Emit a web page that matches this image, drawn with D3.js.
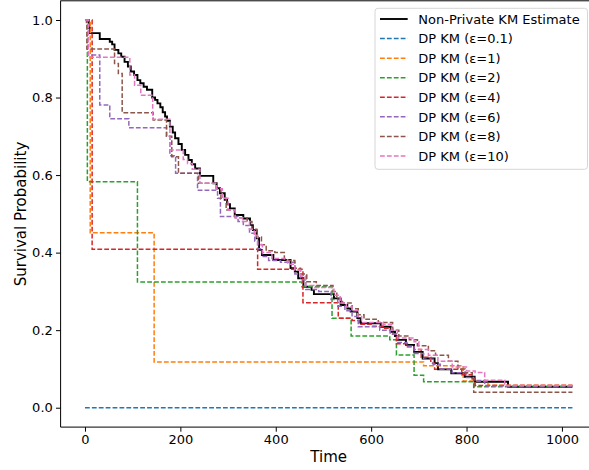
<!DOCTYPE html>
<html><head><meta charset="utf-8">
<script src="https://cdn.jsdelivr.net/npm/d3@7"></script>
<style>body{margin:0;background:#fff} svg{display:block} text{font-family:"DejaVu Sans",sans-serif;fill:#000}</style>
</head><body><svg id="c" width="589" height="470"></svg>
<script>
const endTime = 1022;
const xTicks = [0, 200, 400, 600, 800, 1000];
const yTicks = [0, 0.2, 0.4, 0.6, 0.8, 1.0];
const xLabel = "Time";
const yLabel = "Survival Probability";

const nonPrivate = [[0,1],[8,0.98],[10,0.966],[31,0.951],[52,0.944],[57,0.937],[62,0.923],[70,0.914],[76,0.905],[83,0.892],[90,0.880],[96,0.867],[103,0.858],[110,0.845],[116,0.837],[123,0.828],[130,0.82],[141,0.80],[147,0.794],[152,0.785],[158,0.775],[163,0.762],[168,0.751],[172,0.74],[178,0.725],[184,0.71],[189,0.695],[196,0.68],[203,0.665],[210,0.652],[217,0.639],[224,0.628],[231,0.617],[241,0.598],[269,0.579],[276,0.566],[283,0.553],[293,0.536],[298,0.525],[304,0.514],[314,0.497],[332,0.488],[346,0.471],[352,0.458],[360,0.437],[365,0.407],[371,0.394],[395,0.381],[431,0.360],[440,0.351],[447,0.334],[458,0.312],[475,0.304],[480,0.293],[522,0.282],[536,0.265],[550,0.256],[557,0.248],[571,0.231],[578,0.218],[620,0.209],[641,0.196],[650,0.185],[656,0.175],[673,0.162],[690,0.144],[708,0.127],[733,0.115],[740,0.099],[768,0.089],[796,0.080],[817,0.067],[887,0.054]];
const dpEps01 = [[0,0]];
const dpEps1 = [[0,1],[11,0.451],[145,0.118],[710,0.108],[793,0.069],[845,0.058]];
const dpEps2 = [[0,1],[5,0.583],[110,0.324],[455,0.312],[518,0.231],[558,0.185],[639,0.175],[653,0.136],[690,0.084],[710,0.067],[817,0.054]];
const dpEps4 = [[0,1],[15,0.409],[362,0.357],[457,0.271],[531,0.231],[560,0.225],[575,0.215],[600,0.21],[625,0.205],[645,0.19],[653,0.165],[676,0.157],[690,0.15],[705,0.13],[725,0.115],[733,0.099],[790,0.085],[812,0.075],[818,0.057]];
const dpEps6 = [[0,1],[3,0.987],[7,0.91],[31,0.781],[52,0.745],[92,0.722],[171,0.70],[178,0.65],[190,0.605],[236,0.561],[278,0.54],[284,0.493],[321,0.48],[332,0.47],[345,0.45],[356,0.43],[362,0.41],[372,0.39],[385,0.38],[410,0.375],[440,0.345],[452,0.33],[463,0.305],[490,0.30],[516,0.279],[530,0.262],[545,0.25],[560,0.235],[573,0.209],[618,0.20],[640,0.19],[656,0.168],[675,0.158],[690,0.14],[710,0.125],[730,0.112],[745,0.10],[770,0.09],[800,0.078],[815,0.07],[838,0.056]];
const dpEps8 = [[0,1],[4,0.925],[62,0.888],[70,0.862],[78,0.761],[143,0.742],[171,0.70],[182,0.647],[196,0.605],[238,0.579],[276,0.565],[285,0.54],[296,0.51],[315,0.49],[340,0.48],[350,0.46],[360,0.44],[370,0.42],[380,0.405],[398,0.40],[418,0.38],[440,0.36],[452,0.345],[465,0.325],[485,0.315],[520,0.30],[528,0.28],[540,0.27],[560,0.255],[573,0.24],[585,0.228],[615,0.22],[645,0.20],[658,0.185],[680,0.175],[697,0.16],[720,0.147],[735,0.135],[762,0.12],[782,0.10],[797,0.09],[812,0.075],[815,0.04]];
const dpEps10 = [[0,1],[7,0.904],[94,0.858],[104,0.832],[117,0.806],[142,0.744],[178,0.665],[206,0.64],[215,0.63],[225,0.615],[241,0.579],[276,0.565],[288,0.54],[300,0.51],[315,0.49],[330,0.48],[345,0.46],[355,0.445],[362,0.42],[372,0.40],[392,0.385],[425,0.37],[440,0.355],[452,0.34],[462,0.315],[480,0.31],[522,0.29],[535,0.27],[548,0.26],[560,0.25],[572,0.235],[580,0.22],[625,0.215],[643,0.2],[655,0.18],[690,0.17],[700,0.15],[720,0.135],[740,0.12],[770,0.105],[800,0.095],[818,0.091],[838,0.071],[880,0.057]];

const seriesNames = ["Non-Private KM Estimate","DP KM (ε=0.1)","DP KM (ε=1)","DP KM (ε=2)","DP KM (ε=4)","DP KM (ε=6)","DP KM (ε=8)","DP KM (ε=10)"];
const seriesData = [nonPrivate, dpEps01, dpEps1, dpEps2, dpEps4, dpEps6, dpEps8, dpEps10];
const seriesColors = ["#000000","#1f77b4","#ff7f0e","#2ca02c","#d62728","#9467bd","#8c564b","#e377c2"];

const svg = d3.select("#c");
const x = d3.scaleLinear().domain([-51.1, 1073.1]).range([60.6, 596.8]);
const y = d3.scaleLinear().domain([-0.05, 1.05]).range([427.1, 0.6]);

const line = d3.line().x(d => x(d[0])).y(d => y(d[1])).curve(d3.curveStepAfter);
seriesData.forEach((data, i) => {
  const pts = data.concat([[endTime, data[data.length-1][1]]]);
  svg.append("path").attr("d", line(pts)).attr("fill","none")
    .attr("stroke", seriesColors[i])
    .attr("stroke-width", i === 0 ? 1.9 : 1.5)
    .attr("stroke-dasharray", i === 0 ? null : "4.8,2.1");
});

// spines
svg.append("line").attr("x1",60.6).attr("x2",60.6).attr("y1",0.6).attr("y2",427.1).attr("stroke","#000").attr("stroke-width",1);
svg.append("line").attr("x1",60.6).attr("x2",596.8).attr("y1",427.1).attr("y2",427.1).attr("stroke","#000").attr("stroke-width",1);
svg.append("line").attr("x1",60.6).attr("x2",596.8).attr("y1",0.8).attr("y2",0.8).attr("stroke","#000").attr("stroke-width",1);

const xAxis = svg.append("g").attr("transform","translate(0,427.1)")
  .call(d3.axisBottom(x).tickValues(xTicks).tickSize(4.6).tickPadding(3.4).tickFormat(d3.format("d")));
const yAxis = svg.append("g").attr("transform","translate(60.6,0)")
  .call(d3.axisLeft(y).tickValues(yTicks).tickSize(4.6).tickPadding(3.2).tickFormat(d3.format(".1f")));
[xAxis, yAxis].forEach(g => {
  g.select(".domain").remove();
  g.selectAll("text").style("font-family","DejaVu Sans").style("font-size","13px").attr("fill","#000");
  g.selectAll("line").attr("stroke","#000").attr("stroke-width",1);
});

svg.append("text").attr("x",328.7).attr("y",462).attr("text-anchor","middle").style("font-size","15px").text(xLabel);
svg.append("text").attr("transform","translate(25.5,214) rotate(-90)").attr("text-anchor","middle").style("font-size","15px").text(yLabel);

// legend
const lg = svg.append("g");
lg.append("rect").attr("x",375).attr("y",8.3).attr("width",212.5).attr("height",161).attr("rx",3)
  .attr("fill","#fff").attr("fill-opacity",0.8).attr("stroke","#d6d6d6").attr("stroke-width",1);
seriesNames.forEach((name, i) => {
  const cy = 19 + i * 19.57;
  lg.append("line").attr("x1",380).attr("x2",407.7).attr("y1",cy).attr("y2",cy)
    .attr("stroke", seriesColors[i]).attr("stroke-width", i === 0 ? 1.9 : 1.5)
    .attr("stroke-dasharray", i === 0 ? null : "4.8,2.1");
  lg.append("text").attr("x",418.3).attr("y",cy + 4.7).style("font-size","13px").text(name);
});
</script></body></html>
